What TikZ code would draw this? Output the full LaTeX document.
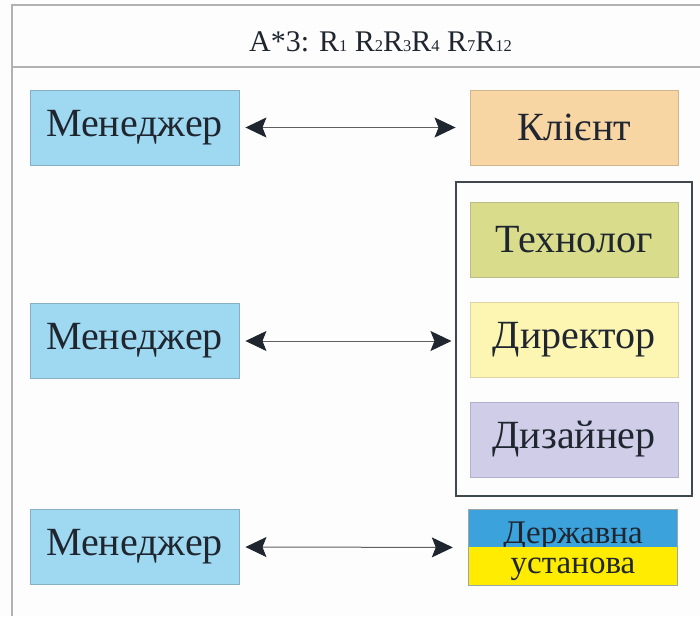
\documentclass[tikz,border=0pt]{standalone}
\usepackage{fontspec}
\setmainfont{Liberation Serif}
\usetikzlibrary{arrows.meta}

\definecolor{pagebg}{HTML}{FDFDFD}
\definecolor{framegray}{HTML}{B2B2B2}
\definecolor{inkdark}{HTML}{1F2630}
\definecolor{mgrblue}{HTML}{9FD9F1}
\definecolor{mgredge}{HTML}{86AFC6}
\definecolor{clientfill}{HTML}{F8D6A4}
\definecolor{clientedge}{HTML}{D2B48E}
\definecolor{techfill}{HTML}{D9DD8B}
\definecolor{techedge}{HTML}{B9BD86}
\definecolor{dirfill}{HTML}{FCF6B2}
\definecolor{diredge}{HTML}{D9D5A6}
\definecolor{desfill}{HTML}{CFCDE7}
\definecolor{desedge}{HTML}{B2B0CC}
\definecolor{uablue}{HTML}{3CA2DC}
\definecolor{uayellow}{HTML}{FFEC00}
\definecolor{uaedge}{HTML}{9AA6A8}

\tikzset{
  role/.style={draw, line width=0.9pt, minimum width=208pt, minimum height=75pt,
    inner sep=0pt, text=inkdark, font=\fontsize{40}{42}\selectfont},
  manager/.style={role, fill=mgrblue, draw=mgredge, minimum width=209pt},
  halfbox/.style={minimum width=208pt, minimum height=37.5pt, inner sep=0pt,
    text=inkdark, font=\fontsize{33}{33}\selectfont},
  bighead/.tip={Stealth[length=21pt, width=20pt, inset=4pt, color=inkdark]},
  link/.style={draw=gray!75!black, line width=1pt, arrows={bighead-bighead}},
  rule/.style={draw=framegray, line width=2pt}
}
\newcommand{\rsub}[1]{R{\fontsize{16.5}{16.5}\selectfont #1}}

\begin{document}
\begin{tikzpicture}[x=1pt, y=-1pt]
  \useasboundingbox (0,0) rectangle (700,616);
  \fill[pagebg] (0,0) rectangle (700,616);

  % outer frame and heading strip
  \coordinate (ftl) at (12,5);
  \coordinate (ftr) at (700,5);
  \coordinate (fbl) at (12,616);
  \coordinate (sl) at (12,67);
  \coordinate (sr) at (700,67);
  \draw[rule] (ftr) -- (ftl) -- (fbl);
  \draw[rule] (sl) -- (sr);
  \node (title) at (380.5,42) [text=inkdark, font=\fontsize{30}{32}\selectfont]
    {A*3: \rsub{1} \rsub{2}\rsub{3}\rsub{4} \rsub{7}\rsub{12}};

  % managers
  \node[manager] (m1) at (134.5,127.5) {Менеджер};
  \node[manager] (m2) at (134.5,341) {Менеджер};
  \node[manager] (m3) at (134.5,547) {Менеджер};

  % client
  \node[role, fill=clientfill, draw=clientedge] (client) at (574,127.5) {Клієнт};

  % staff group
  \node[draw=inkdark!85, line width=1.1pt, minimum width=236pt, minimum height=314pt,
        inner sep=0pt] (staff) at (574,339) {};
  \node[role, fill=techfill, draw=techedge] (tech) at (574,239.5) {Технолог};
  \node[role, fill=dirfill, draw=diredge] (dir) at (574,339.5) {Директор};
  \node[role, fill=desfill, draw=desedge] (des) at (574,439.5) {Дизайнер};

  % state institution (two-colour box)
  \node[halfbox, fill=uablue, text height=33pt, text depth=4pt] (stateTop) at (573,528.5) {Державна};
  \node[halfbox, fill=uayellow, text height=22pt, text depth=8pt] (stateBot) at (573,566) {установа};
  \draw[uaedge, line width=0.9pt] (stateTop.north west) rectangle (stateBot.south east);

  % links
  \draw[link, shorten <=6pt, shorten >=14pt] (m1.east) -- (client.west);
  \draw[link, shorten <=6pt, shorten >=4pt] (m2.east) -- (staff.west |- m2.east);
  \draw[link, shorten <=6pt, shorten >=16pt] (m3.east) -- (stateTop.south west);
\end{tikzpicture}
\end{document}
